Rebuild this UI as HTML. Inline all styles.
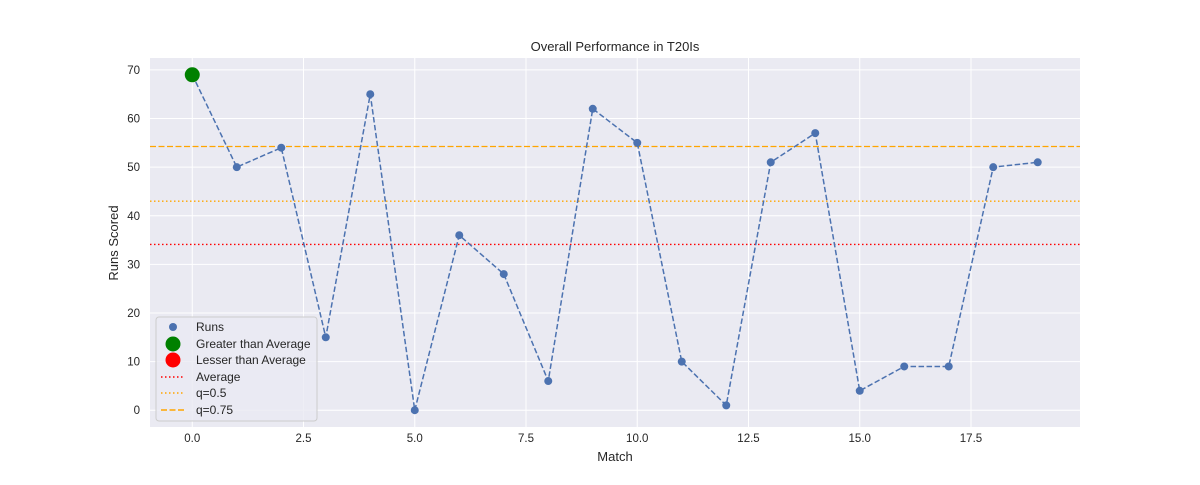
<!DOCTYPE html>
<html><head><meta charset="utf-8"><style>
body{margin:0;background:#fff;font-family:"Liberation Sans","DejaVu Sans",sans-serif;}
svg text{font-family:"Liberation Sans","DejaVu Sans",sans-serif;fill:#262626;}
</style></head><body>
<svg id="chart" width="1200" height="480" xmlns="http://www.w3.org/2000/svg">
<rect x="150" y="58" width="930" height="369" fill="#eaeaf2"/>
<g id="grid"></g>
<g id="refs"></g>
<g id="series"></g>
<g id="ticks"></g>
<text x="615" y="51" font-size="13" text-anchor="middle">Overall Performance in T20Is</text>
<text x="615" y="461" font-size="13" text-anchor="middle">Match</text>
<text x="118" y="243" font-size="13" text-anchor="middle" transform="rotate(-90 118 243)">Runs Scored</text>
<g>
<rect x="156" y="317" width="161" height="104" rx="3" fill="#eaeaf2" fill-opacity="0.8" stroke="#ccc"/>
<circle cx="173" cy="327" r="4" fill="#4c72b0"/>
<text x="196" y="331" font-size="12">Runs</text>
<circle cx="173" cy="344" r="7.5" fill="green"/>
<text x="196" y="348" font-size="12">Greater than Average</text>
<circle cx="173" cy="360" r="7.5" fill="red"/>
<text x="196" y="364" font-size="12">Lesser than Average</text>
<line x1="161" y1="377" x2="185" y2="377" stroke="red" stroke-width="1.5" stroke-dasharray="1.5,2.5"/>
<text x="196" y="381" font-size="12">Average</text>
<line x1="161" y1="393" x2="185" y2="393" stroke="orange" stroke-width="1.5" stroke-dasharray="1.5,2.5"/>
<text x="196" y="397" font-size="12">q=0.5</text>
<line x1="161" y1="410" x2="185" y2="410" stroke="orange" stroke-width="1.5" stroke-dasharray="6,2.5"/>
<text x="196" y="414" font-size="12">q=0.75</text>
</g>
</svg>
<script>
const matches=[0,1,2,3,4,5,6,7,8,9,10,11,12,13,14,15,16,17,18,19];
const runs=[69,50,54,15,65,0,36,28,6,62,55,10,1,51,57,4,9,9,50,51];
const xTicks=[0,2.5,5,7.5,10,12.5,15,17.5];
const yTicks=[0,10,20,30,40,50,60,70];
const NS="http://www.w3.org/2000/svg";
const X0=150,X1=1080,Y0=427,Y1=58,xmin=-0.95,xmax=19.95,ymin=-3.45,ymax=72.45;
const sx=v=>X0+(v-xmin)/(xmax-xmin)*(X1-X0);
const sy=v=>Y0-(v-ymin)/(ymax-ymin)*(Y0-Y1);
function mk(tag,attrs,parent){const e=document.createElementNS(NS,tag);for(const k in attrs)e.setAttribute(k,attrs[k]);document.getElementById(parent).appendChild(e);return e;}
xTicks.forEach(t=>{
 const l=mk('line',{x1:sx(t),x2:sx(t),y1:Y1,y2:Y0,stroke:'#fff','stroke-width':1},'grid');
 
 
 const tx=mk('text',{x:sx(t),y:Y0+15,'font-size':11.5,'text-anchor':'middle'},'ticks');
 tx.textContent=t.toFixed(1);
 
 
});
yTicks.forEach(t=>{
 const l=mk('line',{x1:X0,x2:X1,y1:sy(t),y2:sy(t),stroke:'#fff','stroke-width':1},'grid');
 
 
 const tx=mk('text',{x:X0-10,y:sy(t)+4,'font-size':11.5,'text-anchor':'end'},'ticks');
 tx.textContent=t;
 
 
});
const avg=runs.reduce((a,b)=>a+b,0)/runs.length;
function quant(q){const s=[...runs].sort((a,b)=>a-b);const p=q*(s.length-1),i=Math.floor(p);return s[i]+(p-i)*((s[i+1]??s[i])-s[i]);}
[[avg,'red','1.5,2.5','average-line'],[quant(0.5),'orange','1.5,2.5','q50-line'],[quant(0.75),'orange','6,2.5','q75-line']].forEach(r=>{
 const l=mk('line',{x1:X0,x2:X1,y1:sy(r[0]),y2:sy(r[0]),stroke:r[1],'stroke-width':1.3,'stroke-dasharray':r[2]},'refs');
 
 
});
const pl=mk('polyline',{points:matches.map((m,i)=>sx(m)+','+sy(runs[i])).join(' '),fill:'none',stroke:'#4c72b0','stroke-width':1.5,'stroke-dasharray':'5.5,2.5'},'series');


matches.forEach((m,i)=>{
 const c=mk('circle',{cx:sx(m),cy:sy(runs[i]),r:4,fill:'#4c72b0'},'series');
 
 
});
const g=mk('circle',{cx:sx(matches[0]),cy:sy(runs[0]),r:7.5,fill:'green'},'series');


</script>
</body></html>
